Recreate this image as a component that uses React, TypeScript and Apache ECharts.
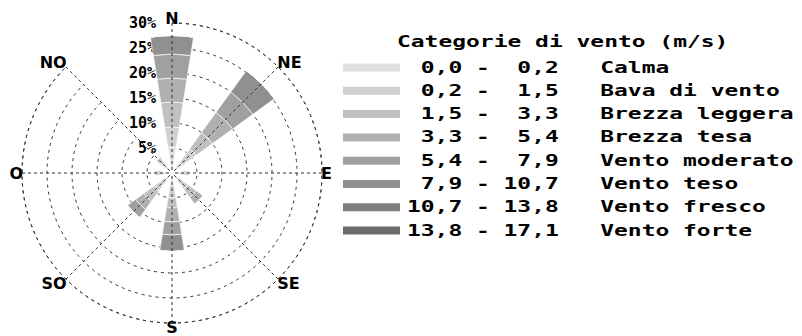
import React, { useEffect, useRef } from 'react';
import * as echarts from 'echarts';

// Directions (clockwise from North)
const directions = ['N', 'NE', 'E', 'SE', 'S', 'SO', 'O', 'NO'];

// Wind categories
const categories = [
  'Calma',
  'Bava di vento',
  'Brezza leggera',
  'Brezza tesa',
  'Vento moderato',
  'Vento teso',
  'Vento fresco',
  'Vento forte',
];
const rangeLow = ['0,0', '0,2', '1,5', '3,3', '5,4', '7,9', '10,7', '13,8'];
const rangeHigh = ['0,2', '1,5', '3,3', '5,4', '7,9', '10,7', '13,8', '17,1'];

// Frequencies (%) per direction: N, NE, E, SE, S, SO, O, NO
const calma = [5.2, 2.5, 2.0, 2.0, 2.5, 2.0, 2.0, 2.0];
const bava = [4.0, 3.5, 1.5, 2.0, 2.5, 2.5, 1.5, 2.0];
const leggera = [5.0, 4.0, 0, 2.0, 2.0, 2.5, 0, 0];
const tesa = [4.8, 5.0, 0, 1.7, 2.8, 2.0, 0, 0];
const moderato = [4.8, 5.0, 0, 0, 2.6, 2.0, 0, 0];
const teso = [3.7, 5.3, 0, 0, 3.3, 0, 0, 0];
const fresco = [0, 0, 0, 0, 0, 0, 0, 0];
const forte = [0, 0, 0, 0, 0, 0, 0, 0];

const seriesValues = [calma, bava, leggera, tesa, moderato, teso, fresco, forte];

const colors = ['#e0e0e0', '#d0d0d0', '#c0c0c0', '#b0b0b0', '#a0a0a0', '#909090', '#7e7e7e', '#6c6c6c'];

const legendTitle = 'Categorie di vento (m/s)';

export default function App() {
  const ref = useRef<HTMLDivElement>(null);

  useEffect(() => {
    const chart = echarts.init(ref.current as HTMLDivElement, null, { renderer: 'svg' });
    const mono = "'DejaVu Sans Mono', monospace";
    const sx = 1.53;
    const font = `bold 15px ${mono}`;
    const adv = 13.8;
    const x0 = 407;

    const graphics: any[] = [];
    graphics.push({
      type: 'text',
      x: 397,
      y: 42,
      scaleX: sx,
      style: { text: legendTitle, font, fill: '#000', align: 'left', verticalAlign: 'middle' },
    });
    categories.forEach((name, i) => {
      const y = 67.5 + i * 23.3;
      graphics.push({
        type: 'rect',
        shape: { x: 343, y: y - 4, width: 57, height: 8 },
        style: { fill: colors[i] },
      });
      graphics.push({
        type: 'text',
        x: x0 + 4 * adv,
        y,
        scaleX: sx,
        style: { text: rangeLow[i], font, fill: '#000', align: 'right', verticalAlign: 'middle' },
      });
      graphics.push({
        type: 'text',
        x: x0 + 5 * adv,
        y,
        scaleX: sx,
        style: { text: '-', font, fill: '#000', align: 'left', verticalAlign: 'middle' },
      });
      graphics.push({
        type: 'text',
        x: x0 + 11 * adv,
        y,
        scaleX: sx,
        style: { text: rangeHigh[i], font, fill: '#000', align: 'right', verticalAlign: 'middle' },
      });
      graphics.push({
        type: 'text',
        x: x0 + 14 * adv,
        y,
        scaleX: sx,
        style: { text: name, font, fill: '#000', align: 'left', verticalAlign: 'middle' },
      });
    });

    chart.setOption({
      animation: false,
      polar: { center: [172, 173], radius: 150 },
      angleAxis: {
        type: 'category',
        data: directions,
        startAngle: 90,
        clockwise: true,
        boundaryGap: false,
        z: 10,
        axisLine: { show: true, lineStyle: { color: '#333', width: 1, type: [3, 4] } },
        axisTick: { show: false },
        axisLabel: {
          margin: -1,
          fontFamily: 'DejaVu Sans',
          fontWeight: 'bold',
          fontSize: 16,
          lineHeight: 11,
          color: '#000',
        },
        splitLine: { show: true, lineStyle: { color: '#333', width: 1, type: [3, 3] } },
      },
      radiusAxis: {
        type: 'value',
        min: 0,
        max: 30,
        interval: 5,
        z: 1,
        axisLine: { show: false },
        axisTick: { show: false },
        axisLabel: {
          margin: 16,
          formatter: (v: number) => (v === 0 ? '' : v + '%'),
          fontFamily: mono,
          fontWeight: 'bold',
          fontSize: 15,
          color: '#000',
        },
        splitLine: { show: true, lineStyle: { color: '#333', width: 1, type: [3, 4] } },
      },
      series: seriesValues.map((d, i) => ({
        type: 'bar',
        coordinateSystem: 'polar',
        name: categories[i],
        stack: 'wind',
        data: d,
        barWidth: '40%',
        itemStyle: { color: colors[i], borderColor: '#fff', borderWidth: 0.6 },
        z: 2,
      })),
      graphic: graphics,
    });
    return () => chart.dispose();
  }, []);

  return <div ref={ref} style={{ position: 'absolute', left: 0, top: 0, width: 802, height: 336 }} />;
}
